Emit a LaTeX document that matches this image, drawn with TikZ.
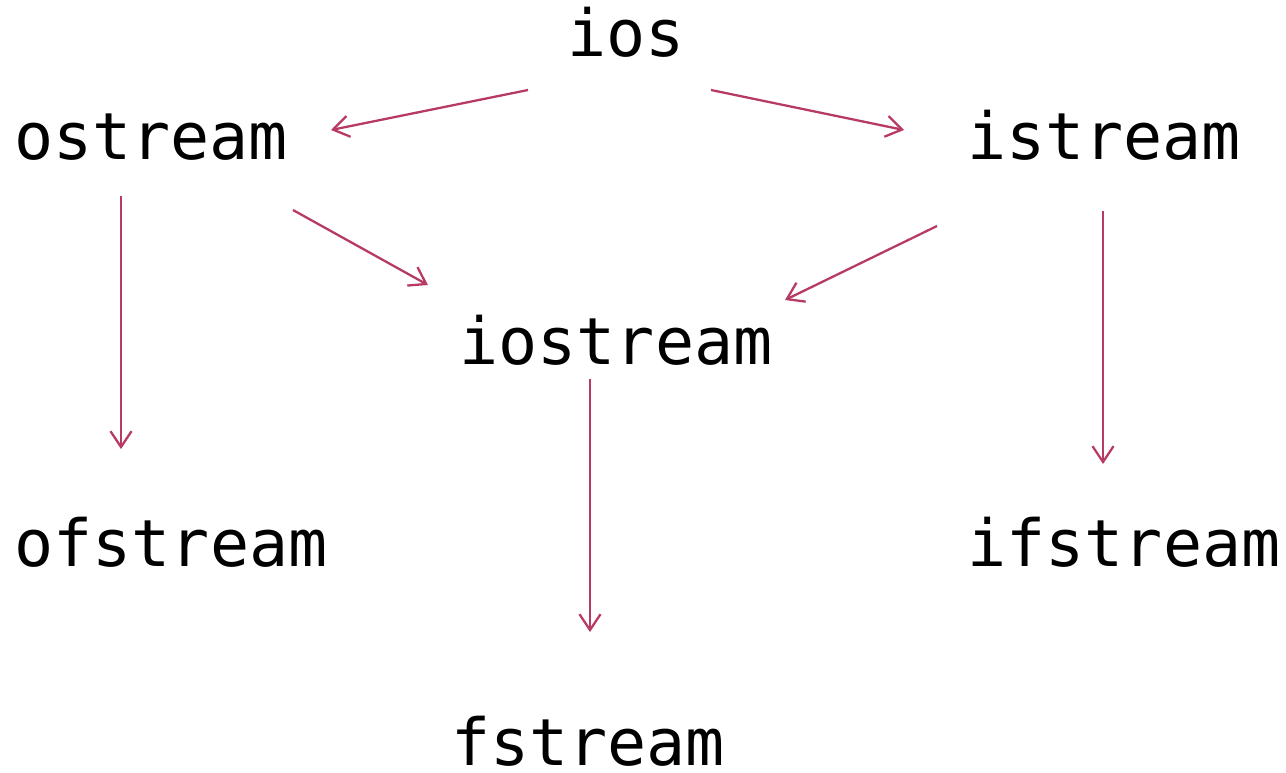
\documentclass[tikz,border=0pt]{standalone}
\usepackage{fontspec}
\setmonofont{DejaVu Sans Mono}
\usetikzlibrary{arrows.meta}
\definecolor{linkred}{RGB}{183,58,99}
\tikzset{
	cls/.style={anchor=base, inner sep=0pt, font=\ttfamily\fontsize{37}{44}\selectfont},
	link/.style={draw=linkred, line width=1.3pt, -{Straight Barb[length=9pt,width=12pt]}}
}

\begin{document}
\begin{tikzpicture}[x=0.02cm, y=-0.02cm]
		%%%%% START %%%%%
		\useasboundingbox (0, 0) rectangle (1286, 772);
		
		\node[cls] (ios) at (626, 56) {ios};
		\node[cls] (ostream) at (151, 159) {ostream};
		\node[cls] (istream) at (1104, 159) {istream};
		\node[cls] (iostream) at (616, 364) {iostream};
		\node[cls] (ofstream) at (171, 566) {ofstream};
		\node[cls] (ifstream) at (1124, 566) {ifstream};
		\node[cls] (fstream) at (588, 765) {fstream};
		
		\draw[link] ([shift={(-98, 34)}]ios.base) -- ([shift={(180, -29)}]ostream.base);
		\draw[link] ([shift={(85, 34)}]ios.base) -- ([shift={(-200, -29)}]istream.base);
		
		\draw[link] ([shift={(-30, 37)}]ostream.base) -- ([shift={(-50, -117)}]ofstream.base);
		\draw[link] ([shift={(142, 51)}]ostream.base) -- ([shift={(-188, -79)}]iostream.base);
		
		\draw[link] ([shift={(-167, 67)}]istream.base) -- ([shift={(169, -64)}]iostream.base);
		\draw[link] ([shift={(-1, 52)}]istream.base) -- ([shift={(-21, -102)}]ifstream.base);
		
		\draw[link] ([shift={(-26, 15)}]iostream.base) -- ([shift={(2, -133)}]fstream.base);
		%%%%% END %%%%%
	\end{tikzpicture}
\end{document}
